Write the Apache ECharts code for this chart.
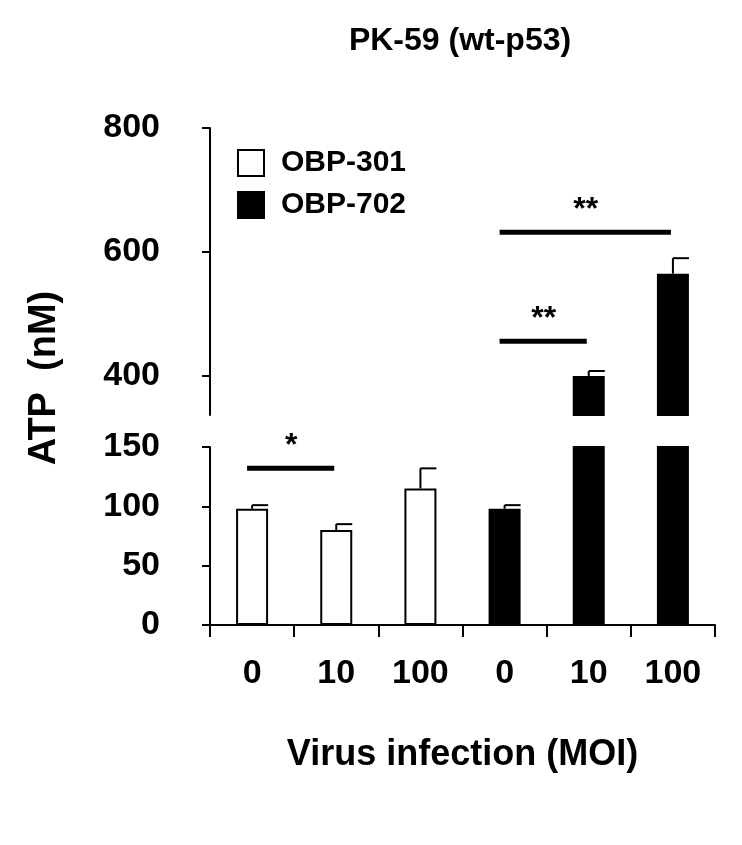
<!DOCTYPE html>
<html><head><meta charset="utf-8">
<script src="https://cdn.jsdelivr.net/npm/echarts@6/dist/echarts.min.js"></script>
<style>html,body{margin:0;background:#fff}#c{width:742px;height:845px}</style>
</head><body><div id="c"></div>
<script>
// data
const categories = ['0', '10', '100', '0', '10', '100'];
const obp301 = [98, 80, 115, '-', '-', '-'];
const obp702 = ['-', '-', '-', 98, 400, 565];
const errors = [3, 5, 17, 3, 8, 25];
const means = [98, 80, 115, 98, 400, 565];
// [fromIndex, toIndex, y value, label]
const sigLower = [[0, 1, 132, '*']];
const sigUpper = [[3, 4, 456, '**'], [3, 5, 632, '**']];

const F = 'Liberation Sans, Arial, sans-serif';
const chart = echarts.init(document.getElementById('c'));

function errItem(params, api) {
  const x = api.value(0), lo = api.value(1), hi = api.value(2);
  const top = api.coord([x, hi]), bot = api.coord([x, lo]);
  return {
    type: 'group', children: [
      {type: 'line', shape: {x1: top[0], y1: top[1], x2: bot[0], y2: bot[1]}, style: {stroke: '#000', lineWidth: 2}},
      {type: 'line', shape: {x1: top[0], y1: top[1], x2: top[0] + 16, y2: top[1]}, style: {stroke: '#000', lineWidth: 2}}
    ]
  };
}
function sigItem(params, api) {
  const a = api.coord([api.value(0), api.value(2)]);
  const b = api.coord([api.value(1), api.value(2)]);
  return {
    type: 'group', children: [
      {type: 'line', shape: {x1: a[0] - 5, y1: a[1], x2: b[0] - 2, y2: b[1]}, style: {stroke: '#000', lineWidth: 5}},
      {type: 'text', x: (a[0] + b[0]) / 2 - 3, y: a[1] - 6, style: {text: sigData[params.seriesIndex][params.dataIndex], font: 'bold 32px ' + F, align: 'center', verticalAlign: 'bottom', fill: '#000'}}
    ]
  };
}
const sigData = {};
const errUpper = means.map((m, i) => m > 340 ? [i, m, m + errors[i]] : null).filter(d => d);
const errLower = means.map((m, i) => m < 150 ? [i, m, m + errors[i]] : null).filter(d => d);

const barStyle301 = {color: '#fff', borderColor: '#000', borderWidth: 2};
const barStyle702 = {color: '#000', borderColor: '#000', borderWidth: 2};

const series = [];
function addGrid(g) {
  series.push({name: 'OBP-301', type: 'bar', xAxisIndex: g, yAxisIndex: g, data: obp301, barWidth: 32, barGap: '-100%', itemStyle: barStyle301, clip: true, z: 2});
  series.push({name: 'OBP-702', type: 'bar', xAxisIndex: g, yAxisIndex: g, data: obp702, barWidth: 32, barGap: '-100%', itemStyle: barStyle702, clip: true, z: 2});
  series.push({type: 'custom', xAxisIndex: g, yAxisIndex: g, renderItem: errItem, data: g === 0 ? errUpper : errLower, z: 1, clip: false});
  const s = g === 0 ? sigUpper : sigLower;
  sigData[series.length] = s.map(d => d[3]);
  series.push({type: 'custom', xAxisIndex: g, yAxisIndex: g, renderItem: sigItem, data: s.map(d => [d[0], d[1], d[2]]), z: 3, clip: false});
}
addGrid(0);
addGrid(1);

const axisLab = {fontSize: 34, fontWeight: 'bold', fontFamily: F, color: '#000'};
chart.setOption({
  animation: false,
  title: {text: 'PK-59 (wt-p53)', left: 455, top: 20, textAlign: 'center', textStyle: {fontSize: 32, fontWeight: 'bold', fontFamily: F, color: '#000'}},
  legend: {
    data: ['OBP-301', 'OBP-702'], orient: 'vertical', left: 232, top: 143, itemWidth: 26, itemHeight: 26, itemGap: 12,
    icon: 'rect',
    textStyle: {fontSize: 30, fontWeight: 'bold', fontFamily: F, color: '#000', padding: [0, 0, 0, 12]}
  },
  grid: [
    {left: 210, right: 27, top: 128, height: 287},
    {left: 210, right: 27, top: 447, height: 178}
  ],
  xAxis: [
    {type: 'category', gridIndex: 0, data: categories, show: false},
    {type: 'category', gridIndex: 1, data: categories,
      axisLine: {lineStyle: {color: '#000', width: 2}},
      axisTick: {show: true, inside: false, length: 12, interval: 0, lineStyle: {color: '#000', width: 2}},
      axisLabel: Object.assign({margin: 32, interval: 0}, axisLab),
      name: 'Virus infection (MOI)', nameLocation: 'middle', nameGap: 112,
      nameTextStyle: {fontSize: 36, fontWeight: 'bold', fontFamily: F, color: '#000'}}
  ],
  yAxis: [
    {type: 'value', gridIndex: 0, min: 337, max: 800, splitLine: {show: false},
      axisLine: {show: true, lineStyle: {color: '#000', width: 2}},
      axisTick: {show: true, length: 8, lineStyle: {width: 2}, customValues: [400, 600, 800]},
      axisLabel: Object.assign({margin: 50, customValues: [400, 600, 800]}, axisLab)},
    {type: 'value', gridIndex: 1, min: 0, max: 150, interval: 50, splitLine: {show: false},
      axisLine: {show: true, lineStyle: {color: '#000', width: 2}},
      axisTick: {show: true, length: 8, lineStyle: {width: 2}},
      axisLabel: Object.assign({margin: 50}, axisLab)}
  ],
  graphic: [{type: 'text', x: 45, y: 378, rotation: Math.PI / 2,
    style: {text: 'ATP  (nM)', font: 'bold 38px ' + F, fill: '#000', align: 'center', verticalAlign: 'middle'}}],
  series: series
});
</script></body></html>
